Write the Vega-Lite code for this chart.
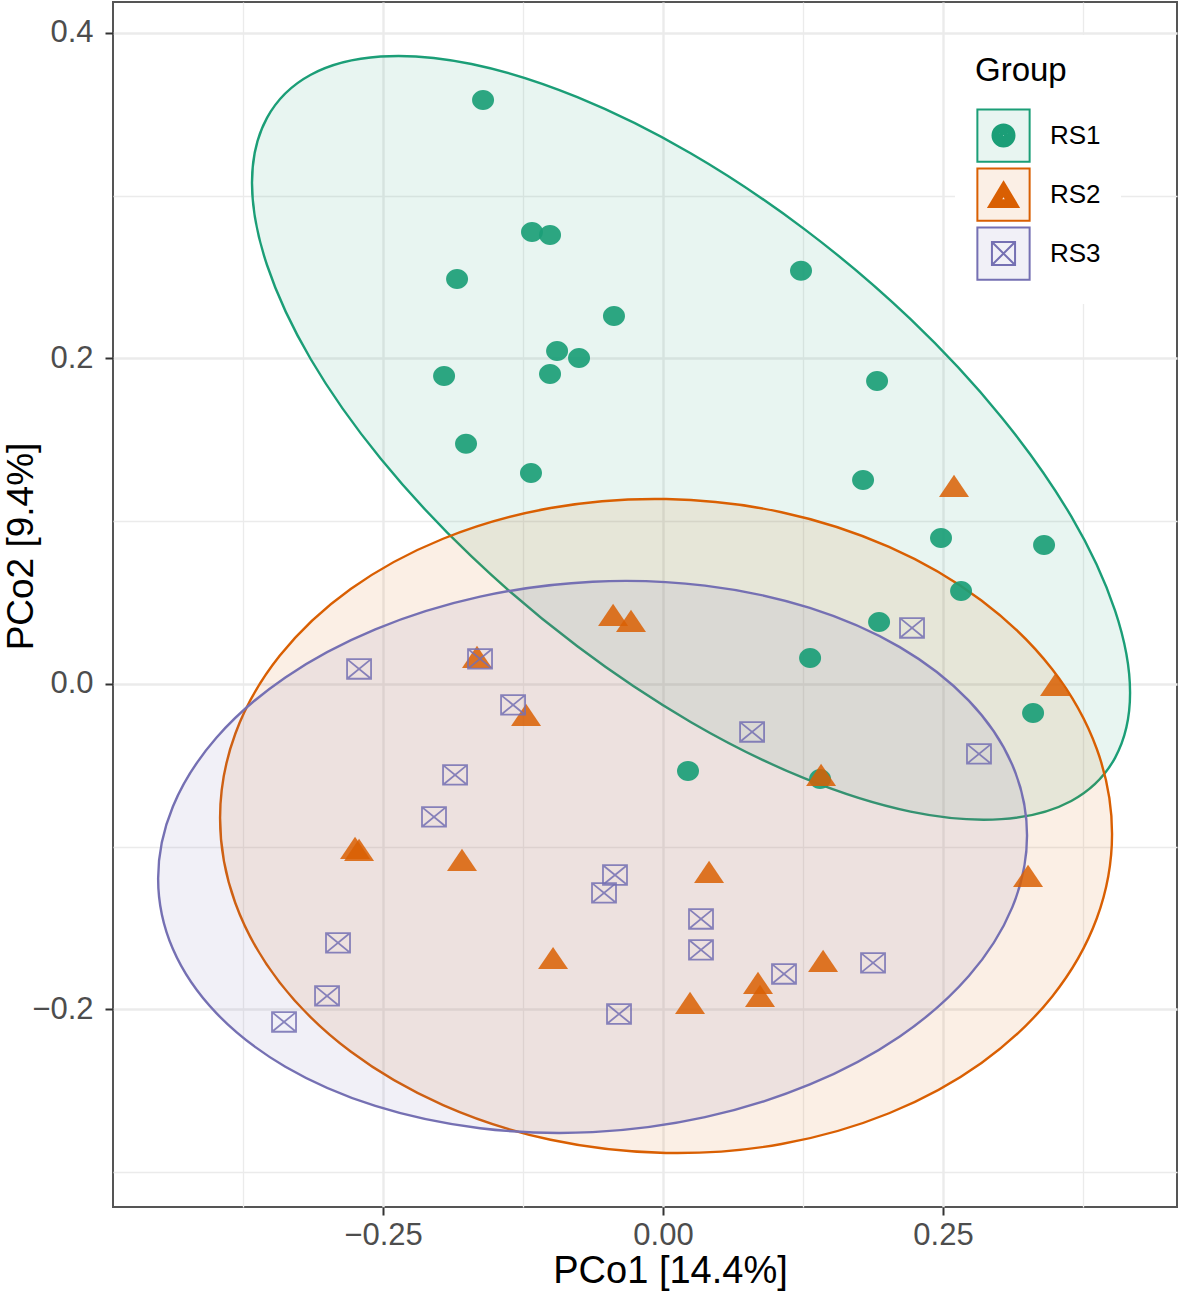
{
  "$schema": "https://vega.github.io/schema/vega-lite/v6.json",
  "width": 1064,
  "height": 1205,
  "autosize": {"type": "none"},
  "padding": {"left": 113, "top": 2, "right": 3, "bottom": 87},
  "background": "white",
  "config": {
    "font": "Liberation Sans",
    "view": {"stroke": "#555555", "strokeWidth": 2}
  },
  "datasets": {
    "pts": [
      {"group": "RS1", "PCo1": -0.1607, "PCo2": 0.3588},
      {"group": "RS1", "PCo1": -0.1170, "PCo2": 0.2777},
      {"group": "RS1", "PCo1": -0.1009, "PCo2": 0.2759},
      {"group": "RS1", "PCo1": -0.1839, "PCo2": 0.2488},
      {"group": "RS1", "PCo1": 0.1232, "PCo2": 0.2538},
      {"group": "RS1", "PCo1": -0.0438, "PCo2": 0.2261},
      {"group": "RS1", "PCo1": -0.0946, "PCo2": 0.2046},
      {"group": "RS1", "PCo1": -0.0750, "PCo2": 0.2003},
      {"group": "RS1", "PCo1": -0.1009, "PCo2": 0.1905},
      {"group": "RS1", "PCo1": -0.1955, "PCo2": 0.1892},
      {"group": "RS1", "PCo1": 0.1911, "PCo2": 0.1862},
      {"group": "RS1", "PCo1": -0.1759, "PCo2": 0.1475},
      {"group": "RS1", "PCo1": -0.1179, "PCo2": 0.1296},
      {"group": "RS1", "PCo1": 0.1786, "PCo2": 0.1253},
      {"group": "RS1", "PCo1": 0.2482, "PCo2": 0.0897},
      {"group": "RS1", "PCo1": 0.3402, "PCo2": 0.0854},
      {"group": "RS1", "PCo1": 0.2661, "PCo2": 0.0571},
      {"group": "RS1", "PCo1": 0.1929, "PCo2": 0.0381},
      {"group": "RS1", "PCo1": 0.1313, "PCo2": 0.0160},
      {"group": "RS1", "PCo1": 0.3304, "PCo2": -0.0178},
      {"group": "RS1", "PCo1": 0.0223, "PCo2": -0.0535},
      {"group": "RS1", "PCo1": 0.1402, "PCo2": -0.0584},
      {"group": "RS2", "PCo1": 0.2598, "PCo2": 0.1217},
      {"group": "RS2", "PCo1": -0.0446, "PCo2": 0.0424},
      {"group": "RS2", "PCo1": -0.0286, "PCo2": 0.0387},
      {"group": "RS2", "PCo1": -0.1661, "PCo2": 0.0166},
      {"group": "RS2", "PCo1": 0.3500, "PCo2": -0.0006},
      {"group": "RS2", "PCo1": -0.1223, "PCo2": -0.0190},
      {"group": "RS2", "PCo1": 0.1411, "PCo2": -0.0559},
      {"group": "RS2", "PCo1": -0.2750, "PCo2": -0.1008},
      {"group": "RS2", "PCo1": -0.2714, "PCo2": -0.1020},
      {"group": "RS2", "PCo1": -0.1795, "PCo2": -0.1081},
      {"group": "RS2", "PCo1": 0.0411, "PCo2": -0.1155},
      {"group": "RS2", "PCo1": 0.3259, "PCo2": -0.1180},
      {"group": "RS2", "PCo1": -0.0982, "PCo2": -0.1684},
      {"group": "RS2", "PCo1": 0.1429, "PCo2": -0.1702},
      {"group": "RS2", "PCo1": 0.0848, "PCo2": -0.1837},
      {"group": "RS2", "PCo1": 0.0866, "PCo2": -0.1917},
      {"group": "RS2", "PCo1": 0.0241, "PCo2": -0.1960},
      {"group": "RS3", "PCo1": 0.2223, "PCo2": 0.0344},
      {"group": "RS3", "PCo1": -0.2714, "PCo2": 0.0092},
      {"group": "RS3", "PCo1": -0.1634, "PCo2": 0.0154},
      {"group": "RS3", "PCo1": -0.1339, "PCo2": -0.0129},
      {"group": "RS3", "PCo1": 0.0795, "PCo2": -0.0295},
      {"group": "RS3", "PCo1": 0.2821, "PCo2": -0.0430},
      {"group": "RS3", "PCo1": -0.1857, "PCo2": -0.0559},
      {"group": "RS3", "PCo1": -0.2045, "PCo2": -0.0817},
      {"group": "RS3", "PCo1": -0.0429, "PCo2": -0.1174},
      {"group": "RS3", "PCo1": -0.0527, "PCo2": -0.1284},
      {"group": "RS3", "PCo1": 0.0339, "PCo2": -0.1444},
      {"group": "RS3", "PCo1": 0.0339, "PCo2": -0.1634},
      {"group": "RS3", "PCo1": -0.2902, "PCo2": -0.1591},
      {"group": "RS3", "PCo1": 0.1080, "PCo2": -0.1782},
      {"group": "RS3", "PCo1": 0.1875, "PCo2": -0.1714},
      {"group": "RS3", "PCo1": -0.3000, "PCo2": -0.1917},
      {"group": "RS3", "PCo1": -0.0393, "PCo2": -0.2028},
      {"group": "RS3", "PCo1": -0.3384, "PCo2": -0.2077}
    ],
    "ell": [
      {"group": "RS1", "i": 0, "PCo1": 0.4170, "PCo2": -0.0055},
      {"group": "RS1", "i": 1, "PCo1": 0.4036, "PCo2": -0.0454},
      {"group": "RS1", "i": 2, "PCo1": 0.3645, "PCo2": -0.0719},
      {"group": "RS1", "i": 3, "PCo1": 0.3022, "PCo2": -0.0831},
      {"group": "RS1", "i": 4, "PCo1": 0.2210, "PCo2": -0.0785},
      {"group": "RS1", "i": 5, "PCo1": 0.1265, "PCo2": -0.0581},
      {"group": "RS1", "i": 6, "PCo1": 0.0250, "PCo2": -0.0235},
      {"group": "RS1", "i": 7, "PCo1": -0.0765, "PCo2": 0.0231},
      {"group": "RS1", "i": 8, "PCo1": -0.1710, "PCo2": 0.0783},
      {"group": "RS1", "i": 9, "PCo1": -0.2522, "PCo2": 0.1385},
      {"group": "RS1", "i": 10, "PCo1": -0.3145, "PCo2": 0.1995},
      {"group": "RS1", "i": 11, "PCo1": -0.3536, "PCo2": 0.2574},
      {"group": "RS1", "i": 12, "PCo1": -0.3670, "PCo2": 0.3079},
      {"group": "RS1", "i": 13, "PCo1": -0.3536, "PCo2": 0.3478},
      {"group": "RS1", "i": 14, "PCo1": -0.3145, "PCo2": 0.3743},
      {"group": "RS1", "i": 15, "PCo1": -0.2522, "PCo2": 0.3855},
      {"group": "RS1", "i": 16, "PCo1": -0.1710, "PCo2": 0.3809},
      {"group": "RS1", "i": 17, "PCo1": -0.0765, "PCo2": 0.3605},
      {"group": "RS1", "i": 18, "PCo1": 0.0250, "PCo2": 0.3259},
      {"group": "RS1", "i": 19, "PCo1": 0.1265, "PCo2": 0.2793},
      {"group": "RS1", "i": 20, "PCo1": 0.2210, "PCo2": 0.2241},
      {"group": "RS1", "i": 21, "PCo1": 0.3022, "PCo2": 0.1639},
      {"group": "RS1", "i": 22, "PCo1": 0.3645, "PCo2": 0.1029},
      {"group": "RS1", "i": 23, "PCo1": 0.4036, "PCo2": 0.0450},
      {"group": "RS2", "i": 0, "PCo1": 0.4009, "PCo2": -0.0922},
      {"group": "RS2", "i": 1, "PCo1": 0.3873, "PCo2": -0.1440},
      {"group": "RS2", "i": 2, "PCo1": 0.3475, "PCo2": -0.1920},
      {"group": "RS2", "i": 3, "PCo1": 0.2843, "PCo2": -0.2329},
      {"group": "RS2", "i": 4, "PCo1": 0.2018, "PCo2": -0.2638},
      {"group": "RS2", "i": 5, "PCo1": 0.1058, "PCo2": -0.2827},
      {"group": "RS2", "i": 6, "PCo1": 0.0027, "PCo2": -0.2882},
      {"group": "RS2", "i": 7, "PCo1": -0.1004, "PCo2": -0.2801},
      {"group": "RS2", "i": 8, "PCo1": -0.1964, "PCo2": -0.2588},
      {"group": "RS2", "i": 9, "PCo1": -0.2789, "PCo2": -0.2259},
      {"group": "RS2", "i": 10, "PCo1": -0.3421, "PCo2": -0.1836},
      {"group": "RS2", "i": 11, "PCo1": -0.3819, "PCo2": -0.1346},
      {"group": "RS2", "i": 12, "PCo1": -0.3955, "PCo2": -0.0824},
      {"group": "RS2", "i": 13, "PCo1": -0.3819, "PCo2": -0.0306},
      {"group": "RS2", "i": 14, "PCo1": -0.3421, "PCo2": 0.0174},
      {"group": "RS2", "i": 15, "PCo1": -0.2789, "PCo2": 0.0583},
      {"group": "RS2", "i": 16, "PCo1": -0.1964, "PCo2": 0.0892},
      {"group": "RS2", "i": 17, "PCo1": -0.1004, "PCo2": 0.1081},
      {"group": "RS2", "i": 18, "PCo1": 0.0027, "PCo2": 0.1136},
      {"group": "RS2", "i": 19, "PCo1": 0.1058, "PCo2": 0.1055},
      {"group": "RS2", "i": 20, "PCo1": 0.2018, "PCo2": 0.0842},
      {"group": "RS2", "i": 21, "PCo1": 0.2843, "PCo2": 0.0513},
      {"group": "RS2", "i": 22, "PCo1": 0.3475, "PCo2": 0.0090},
      {"group": "RS2", "i": 23, "PCo1": 0.3873, "PCo2": -0.0400},
      {"group": "RS3", "i": 0, "PCo1": 0.3250, "PCo2": -0.0931},
      {"group": "RS3", "i": 1, "PCo1": 0.3118, "PCo2": -0.1373},
      {"group": "RS3", "i": 2, "PCo1": 0.2730, "PCo2": -0.1795},
      {"group": "RS3", "i": 3, "PCo1": 0.2114, "PCo2": -0.2166},
      {"group": "RS3", "i": 4, "PCo1": 0.1311, "PCo2": -0.2461},
      {"group": "RS3", "i": 5, "PCo1": 0.0375, "PCo2": -0.2662},
      {"group": "RS3", "i": 6, "PCo1": -0.0629, "PCo2": -0.2754},
      {"group": "RS3", "i": 7, "PCo1": -0.1633, "PCo2": -0.2730},
      {"group": "RS3", "i": 8, "PCo1": -0.2569, "PCo2": -0.2593},
      {"group": "RS3", "i": 9, "PCo1": -0.3372, "PCo2": -0.2352},
      {"group": "RS3", "i": 10, "PCo1": -0.3988, "PCo2": -0.2023},
      {"group": "RS3", "i": 11, "PCo1": -0.4376, "PCo2": -0.1629},
      {"group": "RS3", "i": 12, "PCo1": -0.4508, "PCo2": -0.1195},
      {"group": "RS3", "i": 13, "PCo1": -0.4376, "PCo2": -0.0753},
      {"group": "RS3", "i": 14, "PCo1": -0.3988, "PCo2": -0.0331},
      {"group": "RS3", "i": 15, "PCo1": -0.3372, "PCo2": 0.0040},
      {"group": "RS3", "i": 16, "PCo1": -0.2569, "PCo2": 0.0335},
      {"group": "RS3", "i": 17, "PCo1": -0.1633, "PCo2": 0.0536},
      {"group": "RS3", "i": 18, "PCo1": -0.0629, "PCo2": 0.0628},
      {"group": "RS3", "i": 19, "PCo1": 0.0375, "PCo2": 0.0604},
      {"group": "RS3", "i": 20, "PCo1": 0.1311, "PCo2": 0.0467},
      {"group": "RS3", "i": 21, "PCo1": 0.2114, "PCo2": 0.0226},
      {"group": "RS3", "i": 22, "PCo1": 0.2730, "PCo2": -0.0103},
      {"group": "RS3", "i": 23, "PCo1": 0.3118, "PCo2": -0.0497}
    ]
  },
  "encoding": {
    "x": {
      "field": "PCo1",
      "type": "quantitative",
      "scale": {"domain": [-0.4911, 0.4589], "nice": false, "zero": false},
      "axis": {
        "title": "PCo1 [14.4%]",
        "values": [-0.375, -0.25, -0.125, 0, 0.125, 0.25, 0.375],
        "labelExpr": "abs(datum.value*4-round(datum.value*4))<0.001 ? format(datum.value,'.2f') : ''",
        "labelOverlap": false,
        "labelFlush": false,
        "labelFontSize": 31,
        "labelColor": "#4d4d4d",
        "labelPadding": 5,
        "domain": false,
        "tickColor": "#333333",
        "tickWidth": 2,
        "tickSize": 8,
        "tickOpacity": {"condition": {"test": "abs(datum.value*4-round(datum.value*4))<0.001", "value": 1}, "value": 0},
        "gridColor": "#ebebeb",
        "gridWidth": {"condition": {"test": "abs(datum.value*4-round(datum.value*4))<0.001", "value": 2.4}, "value": 1.3},
        "titleFontSize": 38,
        "titleFontWeight": "normal",
        "titleColor": "#000000",
        "titleX": 557,
        "titleY": 75,
        "titleBaseline": "alphabetic"
      }
    },
    "y": {
      "field": "PCo2",
      "type": "quantitative",
      "scale": {"domain": [-0.3214, 0.419], "nice": false, "zero": false},
      "axis": {
        "title": "PCo2 [9.4%]",
        "values": [-0.3, -0.2, -0.1, 0, 0.1, 0.2, 0.3, 0.4],
        "labelExpr": "abs(datum.value*5-round(datum.value*5))<0.001 ? format(datum.value,'.1f') : ''",
        "labelOverlap": false,
        "labelFlush": false,
        "labelFontSize": 31,
        "labelColor": "#4d4d4d",
        "labelPadding": 12,
        "domain": false,
        "tickColor": "#333333",
        "tickWidth": 2,
        "tickSize": 8,
        "tickOpacity": {"condition": {"test": "abs(datum.value*5-round(datum.value*5))<0.001", "value": 1}, "value": 0},
        "gridColor": "#ebebeb",
        "gridWidth": {"condition": {"test": "abs(datum.value*5-round(datum.value*5))<0.001", "value": 2.4}, "value": 1.3},
        "titleFontSize": 37,
        "titleFontWeight": "normal",
        "titleColor": "#000000",
        "titleX": -81,
        "titleY": 544,
        "titleBaseline": "alphabetic"
      }
    }
  },
  "layer": [
    {
      "data": {"name": "ell"},
      "mark": {"type": "line", "interpolate": "cardinal-closed", "strokeWidth": 2.4, "fillOpacity": 0.1},
      "encoding": {
        "order": {"field": "i", "type": "quantitative"},
        "stroke": {"field": "group", "type": "nominal", "scale": {"domain": ["RS1", "RS2", "RS3"], "range": ["#1b9e77", "#d95f02", "#7570b3"]}, "legend": null},
        "fill": {"field": "group", "type": "nominal", "scale": {"domain": ["RS1", "RS2", "RS3"], "range": ["#1b9e77", "#d95f02", "#7570b3"]}, "legend": null}
      }
    },
    {
      "data": {"name": "pts"},
      "transform": [{"filter": "datum.group === 'RS1'"}],
      "mark": {"type": "point", "shape": "M-1.1,0A1.1,1,0,1,1,1.1,0A1.1,1,0,1,1,-1.1,0Z", "size": 400, "filled": true, "fill": "#1b9e77", "strokeWidth": 0, "opacity": 0.92}
    },
    {
      "data": {"name": "pts"},
      "transform": [{"filter": "datum.group === 'RS2'"}],
      "mark": {"type": "point", "shape": "M0,-0.925L1.25,0.925L-1.25,0.925Z", "size": 576, "filled": true, "fill": "#d95f02", "strokeWidth": 0, "opacity": 0.85}
    },
    {
      "data": {"name": "pts"},
      "transform": [{"filter": "datum.group === 'RS3'"}],
      "mark": {"type": "point", "shape": "M-1.2,-0.98H1.2V0.98H-1.2Z M-1.2,-0.98L1.2,0.98 M1.2,-0.98L-1.2,0.98", "size": 400, "filled": false, "stroke": "#7570b3", "strokeWidth": 1.8, "opacity": 0.85}
    },
    {
      "data": {"name": "pts"},
      "mark": {"type": "point", "filled": true, "opacity": 0, "strokeWidth": 2, "size": 3025},
      "encoding": {
        "fill": {
          "field": "group", "type": "nominal",
          "scale": {"domain": ["RS1", "RS2", "RS3"], "range": ["#e8f5f1", "#fbefe5", "#f1f0f7"]},
          "legend": {"title": "Group", "orient": "none", "legendX": 842, "legendY": 33, "padding": 20, "fillColor": "white", "titleFontSize": 33, "titleFontWeight": "normal", "titleColor": "#000000", "titlePadding": 19, "labelFontSize": 26, "labelColor": "#000000", "labelOffset": 18, "symbolSize": 3025, "symbolStrokeWidth": 2, "symbolOpacity": 1, "rowPadding": -9}
        },
        "stroke": {
          "field": "group", "type": "nominal",
          "scale": {"domain": ["RS1", "RS2", "RS3"], "range": ["#1b9e77", "#d95f02", "#7570b3"]},
          "legend": {"title": "Group", "orient": "none", "legendX": 842, "legendY": 33, "padding": 20, "fillColor": "white", "titleFontSize": 33, "titleFontWeight": "normal", "titleColor": "#000000", "titlePadding": 19, "labelFontSize": 26, "labelColor": "#000000", "labelOffset": 18, "symbolSize": 3025, "symbolStrokeWidth": 2, "symbolOpacity": 1, "rowPadding": -9}
        },
        "shape": {
          "field": "group", "type": "nominal",
          "scale": {"domain": ["RS1", "RS2", "RS3"], "range": [
            "M-0.95,-0.95H0.95V0.95H-0.95Z M0.4,0A0.4,0.4,0,1,1,-0.4,0A0.4,0.4,0,1,1,0.4,0Z M0.33,0A0.33,0.33,0,1,1,-0.33,0A0.33,0.33,0,1,1,0.33,0Z M0.26,0A0.26,0.26,0,1,1,-0.26,0A0.26,0.26,0,1,1,0.26,0Z M0.19,0A0.19,0.19,0,1,1,-0.19,0A0.19,0.19,0,1,1,0.19,0Z M0.12,0A0.12,0.12,0,1,1,-0.12,0A0.12,0.12,0,1,1,0.12,0Z M0.05,0A0.05,0.05,0,1,1,-0.05,0A0.05,0.05,0,1,1,0.05,0Z",
            "M-0.95,-0.95H0.95V0.95H-0.95Z M0,-0.45L0.54,0.45L-0.54,0.45Z M0,-0.331L0.432,0.389L-0.432,0.389Z M0,-0.212L0.324,0.328L-0.324,0.328Z M0,-0.094L0.216,0.266L-0.216,0.266Z M0,0.025L0.108,0.205L-0.108,0.205Z",
            "M-0.95,-0.95H0.95V0.95H-0.95Z M-0.42,-0.42H0.42V0.42H-0.42Z M-0.42,-0.42L0.42,0.42 M0.42,-0.42L-0.42,0.42"
          ]},
          "legend": {"title": "Group", "orient": "none", "legendX": 842, "legendY": 33, "padding": 20, "fillColor": "white", "titleFontSize": 33, "titleFontWeight": "normal", "titleColor": "#000000", "titlePadding": 19, "labelFontSize": 26, "labelColor": "#000000", "labelOffset": 18, "symbolSize": 3025, "symbolStrokeWidth": 2, "symbolOpacity": 1, "rowPadding": -9}
        }
      }
    }
  ],
  "resolve": {"scale": {"fill": "independent", "stroke": "independent", "shape": "independent"}}
}
